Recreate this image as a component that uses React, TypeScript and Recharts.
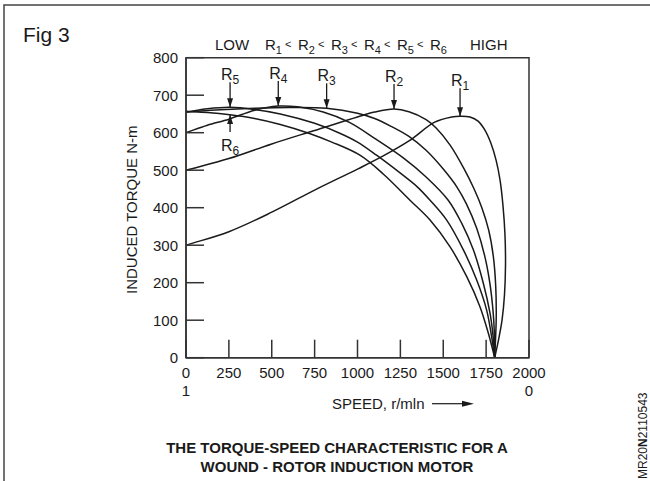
import { LineChart, Line, XAxis, YAxis, ReferenceArea, ReferenceDot } from 'recharts';

const FONT = '"Liberation Sans", Arial, Helvetica, sans-serif';
const INK = '#1a1a1a';

// axis ticks
const speedTicks = [0, 250, 500, 750, 1000, 1250, 1500, 1750, 2000];
const torqueTicks = [0, 100, 200, 300, 400, 500, 600, 700, 800];
// slip shown under the speed scale
const slipLabels: Record<number, string> = { 0: '1', 2000: '0' };

// torque (N-m) vs speed (r/min)
const r1 = [
  [0, 300], [250, 336], [500, 388], [750, 447], [1000, 503], [1150, 538], [1300, 578],
  [1450, 628], [1550, 642], [1598, 644], [1656, 642], [1703, 631], [1743, 607],
  [1778, 572], [1808, 527], [1831, 474], [1848, 407], [1860, 327], [1863, 247],
  [1857, 167], [1843, 101], [1822, 47], [1800, 0],
];
const r2 = [
  [0, 500], [250, 531], [500, 570], [750, 606], [1000, 642], [1100, 655], [1213, 663],
  [1300, 656], [1400, 635], [1460, 612], [1540, 567], [1620, 505], [1680, 450],
  [1725, 400], [1765, 340], [1792, 270], [1806, 190], [1809, 110], [1805, 50], [1800, 0],
];
const r3 = [
  [0, 655], [200, 661], [400, 665], [600, 667], [820, 665], [1000, 652], [1100, 638],
  [1200, 616], [1300, 590], [1400, 553], [1500, 503], [1580, 455], [1635, 410],
  [1695, 345], [1743, 269], [1773, 195], [1792, 115], [1799, 50], [1800, 0],
];
const r4 = [
  [0, 600], [125, 620], [250, 636], [400, 660], [538, 671], [650, 669], [800, 655],
  [950, 628], [1100, 585], [1267, 533], [1400, 482], [1529, 420], [1608, 358],
  [1676, 287], [1734, 198], [1773, 118], [1790, 60], [1800, 0],
];
const r5 = [
  [0, 655], [125, 664], [257, 668], [400, 662], [550, 650], [750, 625], [900, 598],
  [1000, 575], [1111, 540], [1250, 492], [1350, 455], [1423, 420], [1520, 367],
  [1618, 287], [1695, 207], [1753, 127], [1782, 56], [1800, 0],
];
const r6 = [
  [0, 657], [125, 654], [257, 648], [400, 638], [550, 622], [720, 598], [850, 575],
  [1014, 540], [1150, 490], [1306, 420], [1423, 367], [1539, 296], [1637, 216],
  [1714, 136], [1763, 65], [1800, 0],
];

const toPoints = (pairs: number[][]) => pairs.map(([speed, torque]) => ({ speed, torque }));

const series = [
  { name: 'R1', data: toPoints(r1) },
  { name: 'R2', data: toPoints(r2) },
  { name: 'R3', data: toPoints(r3) },
  { name: 'R4', data: toPoints(r4) },
  { name: 'R5', data: toPoints(r5) },
  { name: 'R6', data: toPoints(r6) },
];

// arrow callouts: tip sits on the curve
const notes = [
  { sub: '5', speed: 257, torque: 668, dir: 'down', len: 25 },
  { sub: '4', speed: 538, torque: 671, dir: 'down', len: 25 },
  { sub: '3', speed: 820, torque: 665, dir: 'down', len: 25 },
  { sub: '2', speed: 1213, torque: 663, dir: 'down', len: 25 },
  { sub: '1', speed: 1598, torque: 644, dir: 'down', len: 28 },
  { sub: '6', speed: 257, torque: 647, dir: 'up', len: 17 },
];

// centripetal catmull-rom, so the curves can fold back past 1800 without wobbling
function smoothCurve(context: any) {
  let pts: number[][] = [];
  return {
    areaStart() {},
    areaEnd() {},
    lineStart() { pts = []; },
    point(x: number, y: number) { pts.push([+x, +y]); },
    lineEnd() {
      if (!pts.length) return;
      context.moveTo(pts[0][0], pts[0][1]);
      for (let i = 0; i < pts.length - 1; i++) {
        const p0 = pts[i - 1] || pts[i];
        const p1 = pts[i];
        const p2 = pts[i + 1];
        const p3 = pts[i + 2] || pts[i + 1];
        const d1 = Math.hypot(p1[0] - p0[0], p1[1] - p0[1]);
        const d2 = Math.hypot(p2[0] - p1[0], p2[1] - p1[1]);
        const d3 = Math.hypot(p3[0] - p2[0], p3[1] - p2[1]);
        const a1 = Math.sqrt(d1), a2 = Math.sqrt(d2), a3 = Math.sqrt(d3);
        let c1 = p1, c2 = p2;
        if (a1 > 1e-6) {
          const a = 2 * d1 + 3 * a1 * a2 + d2;
          const n = 3 * a1 * (a1 + a2);
          c1 = [0, 1].map((k) => (p1[k] * a - p0[k] * d2 + p2[k] * d1) / n);
        } else {
          c1 = [0, 1].map((k) => p1[k] + (p2[k] - p1[k]) / 3);
        }
        if (a3 > 1e-6) {
          const b = 2 * d3 + 3 * a3 * a2 + d2;
          const m = 3 * a3 * (a3 + a2);
          c2 = [0, 1].map((k) => (p2[k] * b + p1[k] * d3 - p3[k] * d2) / m);
        } else {
          c2 = [0, 1].map((k) => p2[k] - (p2[k] - p1[k]) / 3);
        }
        context.bezierCurveTo(c1[0], c1[1], c2[0], c2[1], p2[0], p2[1]);
      }
    },
  };
}

function Arrow({ cx, cy, note }: any) {
  if (cx == null || cy == null) return null;
  const down = note.dir === 'down';
  const end = down ? cy - note.len : cy + note.len;
  const head = down
    ? `${cx - 3},${cy - 9} ${cx + 3},${cy - 9} ${cx},${cy}`
    : `${cx - 3},${cy + 9} ${cx + 3},${cy + 9} ${cx},${cy}`;
  const ty = down ? end - 2 : end + 19;
  return (
    <g>
      <line x1={cx} y1={end} x2={cx} y2={cy} stroke={INK} strokeWidth={1.3} />
      <polygon points={head} fill={INK} />
      <text x={cx} y={ty} textAnchor="middle" fontFamily={FONT} fontSize={16} fill={INK}>
        R<tspan fontSize={12} dy={4}>{note.sub}</tspan>
      </text>
    </g>
  );
}

function SpeedTick({ x, y, payload }: any) {
  const slip = slipLabels[payload.value];
  return (
    <g fontFamily={FONT} fontSize={15} fill={INK}>
      <text x={x} y={y + 20} textAnchor="middle">{payload.value}</text>
      {slip !== undefined && <text x={x} y={y + 38} textAnchor="middle">{slip}</text>}
    </g>
  );
}

function SpeedLabel({ viewBox }: any) {
  const vb = viewBox || { x: 186, y: 357.7 };
  const x = vb.x + 146;
  const y = vb.y + 51;
  return (
    <g>
      <text x={x} y={y} fontFamily={FONT} fontSize={15} fill={INK}>SPEED, r/mln</text>
      <line x1={x + 100} y1={y - 5} x2={x + 132} y2={y - 5} stroke={INK} strokeWidth={1.2} />
      <polygon points={`${x + 130},${y - 8} ${x + 142},${y - 5} ${x + 130},${y - 2}`} fill={INK} />
    </g>
  );
}

function TorqueLabel({ viewBox }: any) {
  const vb = viewBox || { x: 116, y: 57.7, height: 300 };
  const x = vb.x + 21;
  const y = vb.y + vb.height / 2 + 2;
  return (
    <text x={x} y={y} transform={`rotate(-90 ${x} ${y})`} textAnchor="middle"
      fontFamily={FONT} fontSize={15} fill={INK}>INDUCED TORQUE N-m</text>
  );
}

function Header() {
  const units = ['1', '2', '3', '4', '5', '6'];
  return (
    <svg width={650} height={481} style={{ position: 'absolute', left: 0, top: 0, pointerEvents: 'none' }}>
      <polyline points="4,481 4,5 650,5" fill="none" stroke="#444" strokeWidth={1.5} />
      <text x={23} y={42} fontFamily={FONT} fontSize={21} fill={INK}>Fig 3</text>
      <g fontFamily={FONT} fontSize={15} fill={INK}>
        <text x={215} y={50}>LOW</text>
        {units.map((u, i) => (
          <text key={u} x={265 + i * 33} y={50}>
            R<tspan fontSize={11} dy={4}>{u}</tspan>
            {i < 5 && <tspan fontSize={11} dy={-6} dx={3}>{'<'}</tspan>}
          </text>
        ))}
        <text x={470} y={50}>HIGH</text>
      </g>
      <g fontFamily={FONT} fontSize={15} fontWeight="bold" fill={INK} textAnchor="middle">
        <text x={337} y={453}>THE TORQUE-SPEED CHARACTERISTIC FOR A</text>
        <text x={337} y={472}>WOUND - ROTOR INDUCTION MOTOR</text>
      </g>
      <text x={647} y={479} transform="rotate(-90 647 479)" fontFamily={FONT} fontSize={12} fill={INK}>
        MR20<tspan fontWeight="bold">N</tspan>2110543
      </text>
    </svg>
  );
}

export default function App() {
  return (
    <div style={{ position: 'absolute', left: 0, top: 0, width: 650, height: 481, background: '#fff' }}>
      <LineChart width={650} height={481} margin={{ top: 57.7, right: 121, bottom: 63.3, left: 116 }}>
        <XAxis
          dataKey="speed"
          type="number"
          domain={[0, 2000]}
          ticks={speedTicks}
          interval={0}
          height={60}
          tickSize={-18}
          tickMargin={18}
          tick={<SpeedTick />}
          stroke="#333"
          strokeWidth={1.5}
          allowDuplicatedCategory={false}
          label={{ content: <SpeedLabel /> }}
        />
        <YAxis
          type="number"
          domain={[0, 800]}
          ticks={torqueTicks}
          interval={0}
          width={70}
          tickSize={-18}
          tickMargin={26}
          tick={{ fontSize: 15, fill: INK, fontFamily: FONT }}
          stroke="#333"
          strokeWidth={1.5}
          label={{ content: <TorqueLabel /> }}
        />
        <ReferenceArea x1={0} x2={2000} y1={0} y2={800} fill="none" stroke="#333" strokeWidth={1.5} />
        {series.map((s) => (
          <Line
            key={s.name}
            name={s.name}
            data={s.data}
            dataKey="torque"
            type={smoothCurve as any}
            stroke={INK}
            strokeWidth={1.5}
            dot={false}
            activeDot={false}
            isAnimationActive={false}
          />
        ))}
        {notes.map((n) => (
          <ReferenceDot
            key={n.sub}
            x={n.speed}
            y={n.torque}
            r={0}
            shape={(p: any) => <Arrow {...p} note={n} />}
          />
        ))}
      </LineChart>
      <Header />
    </div>
  );
}
